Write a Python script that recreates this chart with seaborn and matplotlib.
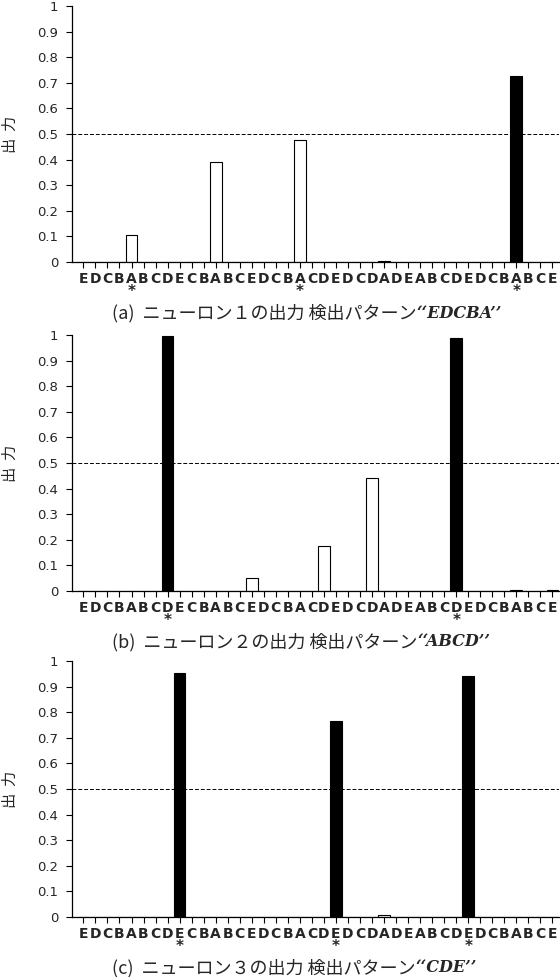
import pandas as pd
import matplotlib
matplotlib.use('Agg')
import matplotlib.pyplot as plt
import matplotlib.transforms as mtransforms
import seaborn as sns

# input sequence shown under every panel
letters = list("EDCBABCDECBABCEDCBACDEDCDADEABCDEDCBABCE")

# neuron outputs (one value per letter)
neuron1 = [0, 0, 0, 0, 0.105, 0, 0, 0, 0, 0,
           0, 0.39, 0, 0, 0, 0, 0, 0, 0.475, 0,
           0, 0, 0, 0, 0, 0.004, 0, 0, 0, 0,
           0, 0, 0, 0, 0, 0, 0.725, 0, 0, 0]
neuron2 = [0, 0, 0, 0, 0, 0, 0, 0.998, 0, 0,
           0, 0, 0, 0, 0.05, 0, 0, 0, 0, 0,
           0.175, 0, 0, 0, 0.44, 0, 0, 0, 0, 0,
           0, 0.99, 0, 0, 0, 0, 0.003, 0, 0, 0.003]
neuron3 = [0, 0, 0, 0, 0, 0, 0, 0, 0.952, 0,
           0, 0, 0, 0, 0, 0, 0, 0, 0, 0,
           0, 0.765, 0, 0, 0, 0.008, 0, 0, 0, 0,
           0, 0, 0.941, 0, 0, 0, 0, 0, 0, 0]

# positions (0-based) where the pattern ends -> marked with *
stars1 = [4, 18, 36]
stars2 = [7, 31]
stars3 = [8, 21, 32]

captions = ["(a)  ニューロン１の出力 検出パターン",
            "(b)  ニューロン２の出力 検出パターン",
            "(c)  ニューロン３の出力 検出パターン"]
patterns = ["\u2018\u2018EDCBA\u2019\u2019", "\u2018\u2018ABCD\u2019\u2019", "\u2018\u2018CDE\u2019\u2019"]

threshold = 0.5
yticks = [i / 10 for i in range(11)]

sns.set_style('ticks')
plt.rcParams['font.family'] = ['DejaVu Sans', 'Noto Sans CJK JP']

fig = plt.figure(figsize=(5.6, 9.77), dpi=100)

W, H = 560, 977
left, right = 72, 559
panel_tops = [6, 335, 661]
panel_h = 256

for k, (vals, stars, cap, pat) in enumerate(zip([neuron1, neuron2, neuron3],
                                                 [stars1, stars2, stars3],
                                                 captions, patterns)):
    top = panel_tops[k]
    ax = fig.add_axes([left / W, 1 - (top + panel_h) / H, (right - left) / W, panel_h / H])

    df = pd.DataFrame({'pos': range(len(letters)), 'value': vals})
    df['fill'] = ['on' if v > threshold else 'off' for v in vals]

    sns.barplot(data=df, x='pos', y='value', hue='fill', dodge=False,
                palette={'on': 'black', 'off': 'white'}, hue_order=['on', 'off'],
                edgecolor='black', linewidth=0.8, width=0.97, legend=False, ax=ax)

    ax.axhline(threshold, color='black', lw=0.7, ls=(0, (4, 2)))

    ax.set_ylim(0, 1)
    ax.set_xlim(-0.95, len(letters) - 0.45)
    ax.set_yticks(yticks)
    ax.set_yticklabels([f'{v:g}' for v in yticks])
    ax.set_xticks(range(len(letters)))
    ax.set_xticklabels(letters, fontweight='bold', fontsize=10)
    ax.tick_params(axis='both', length=4, width=0.8, color='black')
    ax.tick_params(axis='y', pad=6, labelsize=9.5)
    ax.tick_params(axis='x', pad=3)
    ax.set_xlabel('')
    ax.set_ylabel('出  力', family=['Noto Sans CJK JP'], fontsize=11)
    ax.yaxis.set_label_coords(-0.11, 0.5)
    sns.despine(ax=ax)
    for s in ['left', 'bottom']:
        ax.spines[s].set_linewidth(0.9)
        ax.spines[s].set_color('black')

    trans = mtransforms.blended_transform_factory(ax.transData, ax.transAxes)
    for s in stars:
        ax.text(s, -0.115, '*', transform=trans, ha='center', va='center',
                fontsize=11, fontweight='bold')

    t1 = ax.text(112 / W, 1 - (top + panel_h + 51) / H, cap, transform=fig.transFigure,
                 family=['Noto Sans CJK JP'], fontsize=13, ha='left', va='center')
    ax.annotate(pat, xy=(1, 0.5), xycoords=t1, ha='left', va='center',
                family='DejaVu Serif', style='italic', fontweight='bold', fontsize=11.5)

fig.savefig('out.png', dpi=100)
